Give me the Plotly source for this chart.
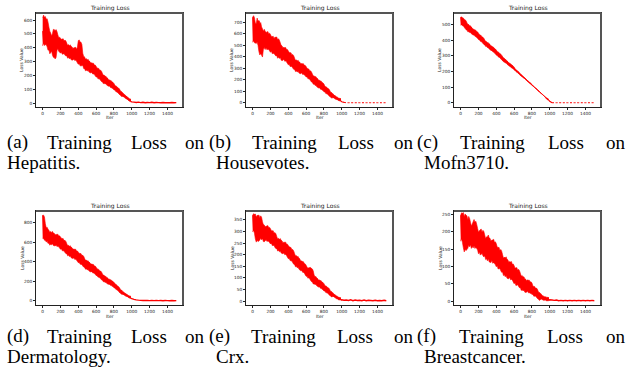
import plotly.graph_objects as go

W, H = 628, 381

# ---------------- data ----------------
ITER_MAIN = list(range(0, 1000, 10))
ITER_TAIL = list(range(1000, 1501, 25))

hepatitis_main = [
    520, 432, 620, 449, 600, 430, 545, 385, 497, 446,
    475, 396, 488, 330, 520, 392, 439, 395, 472, 398,
    453, 368, 422, 380, 449, 363, 418, 342, 416, 373,
    397, 326, 407, 349, 390, 319, 360, 320, 388, 321,
    366, 285, 440, 292, 355, 274, 322, 250, 317, 276,
    299, 237, 303, 253, 285, 223, 255, 219, 274, 216,
    251, 190, 224, 193, 236, 175, 208, 154, 201, 169,
    182, 140, 182, 146, 165, 123, 142, 117, 151, 111,
    129, 94, 109, 90, 111, 75, 91, 59, 82, 62,
    65, 45, 59, 42, 47, 27, 32, 18, 29, 10]
hepatitis_tail = [8, 6, 4, 6, 3, 5, 2, 4, 3, 5, 2, 4, 3, 2, 4, 2, 3, 2, 4, 2, 3]

housevotes_main = [
    745, 540, 636, 558, 688, 529, 632, 715, 630, 430,
    603, 485, 623, 527, 598, 480, 550, 485, 600, 490,
    567, 450, 524, 465, 558, 441, 515, 411, 550, 452,
    489, 395, 498, 422, 473, 379, 430, 376, 462, 374,
    432, 336, 393, 344, 416, 321, 377, 292, 369, 321,
    348, 274, 355, 294, 334, 261, 300, 258, 325, 256,
    298, 227, 264, 227, 277, 205, 243, 179, 233, 194,
    213, 153, 213, 163, 192, 132, 160, 125, 174, 118,
    145, 95, 120, 92, 124, 74, 99, 54, 88, 61,
    66, 43, 62, 42, 50, 27, 35, 21, 36, 14]
housevotes_tail = [8, 3, 0, 0, 0, 0, 0, 0, 0, 0, 0, 0, 0, 0, 0, 0, 0, 0, 0, 0, 0]

mofn_main = [
    545, 497, 523, 497, 529, 481, 507, 464, 499, 474,
    484, 449, 481, 452, 467, 432, 447, 426, 453, 420,
    436, 402, 417, 398, 419, 385, 401, 369, 391, 373,
    379, 351, 375, 350, 361, 333, 343, 326, 345, 319,
    329, 302, 313, 297, 312, 285, 295, 270, 286, 270,
    273, 253, 266, 249, 254, 234, 239, 226, 237, 218,
    220, 206, 208, 198, 201, 187, 189, 175, 178, 169,
    167, 157, 158, 149, 146, 137, 135, 127, 127, 118,
    114, 107, 104, 97, 94, 87, 84, 76, 73, 66,
    62, 57, 52, 46, 41, 36, 31, 26, 21, 15]
mofn_tail = [10, 0, 0, 0, 0, 0, 0, 0, 0, 0, 0, 0, 0, 0, 0, 0, 0, 0, 0, 0, 0]

dermatology_main = [
    875, 640, 790, 643, 744, 621, 701, 592, 700, 640,
    680, 584, 692, 614, 668, 572, 626, 572, 662, 572,
    634, 533, 592, 540, 615, 514, 573, 483, 563, 512,
    540, 458, 546, 479, 522, 440, 483, 436, 509, 432,
    483, 394, 444, 398, 463, 373, 424, 344, 414, 367,
    391, 321, 394, 336, 371, 301, 336, 296, 356, 290,
    328, 260, 296, 259, 305, 237, 273, 212, 261, 225,
    239, 190, 237, 197, 219, 170, 192, 162, 201, 155,
    178, 132, 151, 125, 150, 105, 123, 82, 109, 83,
    86, 63, 80, 60, 66, 43, 49, 35, 48, 25]
dermatology_tail = [22, 15, 10, 7, 5, 4, 3, 4, 2, 3, 2, 3, 2, 3, 1, 3, 2, 1, 3, 1, 2]

crx_main = [
    370, 305, 336, 304, 362, 262, 333, 277, 358, 300,
    321, 270, 329, 287, 316, 266, 295, 267, 316, 268,
    300, 250, 279, 254, 293, 242, 272, 227, 268, 242,
    258, 216, 261, 227, 250, 208, 230, 206, 245, 205,
    232, 185, 212, 187, 221, 174, 201, 159, 195, 171,
    183, 146, 184, 153, 171, 133, 151, 130, 161, 125,
    146, 108, 129, 109, 135, 97, 140, 83, 112, 92,
    100, 73, 99, 77, 90, 62, 75, 58, 81, 55,
    68, 44, 56, 43, 58, 35, 46, 25, 41, 29,
    31, 20, 28, 19, 22, 10, 14, 7, 15, 5]
crx_tail = [6, 4, 5, 3, 6, 2, 5, 3, 4, 2, 5, 2, 4, 3, 2, 4, 2, 3, 2, 4, 2]

breastcancer_main = [
    248, 180, 218, 187, 244, 150, 219, 164, 235, 189,
    210, 163, 217, 179, 207, 160, 228, 161, 207, 162,
    198, 142, 179, 152, 199, 143, 180, 131, 180, 154,
    175, 122, 182, 139, 170, 118, 148, 118, 169, 120,
    152, 103, 133, 108, 146, 97, 127, 84, 124, 100,
    115, 74, 120, 86, 110, 69, 92, 69, 106, 68,
    93, 53, 78, 58, 89, 50, 74, 39, 72, 51,
    61, 32, 64, 41, 58, 29, 45, 28, 55, 28,
    43, 20, 33, 21, 37, 15, 27, 7, 24, 12,
    15, 6, 15, 7, 12, 3, 7, 2, 10, 2]
breastcancer_tail = [4, 3, 2, 3, 1, 2, 1, 2, 1, 2, 1, 2, 1, 2, 1, 2, 1, 2, 1, 2, 1]

LABELS = ["(a)", "(b)", "(c)", "(d)", "(e)", "(f)"]
DATASETS = ["Hepatitis.", "Housevotes.", "Mofn3710.", "Dermatology.", "Crx.", "Breastcancer."]
X_TICKS = [0, 200, 400, 600, 800, 1000, 1200, 1400]
Y_DTICKS = [100, 100, 100, 200, 50, 50]
SERIES = [
    (hepatitis_main, hepatitis_tail),
    (housevotes_main, housevotes_tail),
    (mofn_main, mofn_tail),
    (dermatology_main, dermatology_tail),
    (crx_main, crx_tail),
    (breastcancer_main, breastcancer_tail),
]
DASHED_TAIL = [False, True, True, False, False, False]

# ---------------- layout geometry (pixels) ----------------
COL_X = [(36, 183), (246, 393), (454, 601)]
ROW_Y = [(13, 107), (211, 305)]
CAP_LINE1 = [(7, 204), (209, 413), (417, 625)]
CAP_LINE2_X = [7, 216, 424]
CAP_Y = [(142, 162.5), (336, 356.5)]
CAP_SIZE = 19

TIMES_W = {"(": .333, ")": .333, "a": .444, "b": .5, "c": .444, "d": .5, "e": .444,
           "f": .333, "T": .611, "r": .333, "i": .278, "n": .5, "g": .5, "L": .611,
           "o": .5, "s": .389}


def tw(s):
    return sum(TIMES_W.get(ch, .5) for ch in s) * CAP_SIZE


def px(x):
    return x / W


def py(y):
    return 1 - y / H


def band(vals, half_trend=3, half_env=2):
    """Envelope of the fast oscillation, taken from the series itself:
    local trend (running mean) plus the extreme residuals of nearby samples."""
    n = len(vals)
    trend = []
    for i in range(n):
        w = vals[max(0, i - half_trend):i + half_trend + 1]
        trend.append(sum(w) / len(w))
    resid = [v - t for v, t in zip(vals, trend)]
    up, lo = [], []
    for i in range(n):
        rw = resid[max(0, i - half_env):i + half_env + 1]
        up.append(max(vals[i], trend[i] + max(rw)))
        lo.append(min(vals[i], trend[i] + min(rw)))
    return up, lo


fig = go.Figure()
annotations = []
shapes = []
TICKFONT = dict(family="DejaVu Sans", size=4.3, color="#222")
RED = "#ff0000"

for k, (main, tail) in enumerate(SERIES):
    r, c = divmod(k, 3)
    x0, x1 = COL_X[c]
    y0, y1 = ROW_Y[r]
    sfx = "" if k == 0 else str(k + 1)
    xref, yref = "x" + sfx, "y" + sfx

    allv = main + tail
    lo, hi = min(allv), max(allv)
    pad = 0.05 * (hi - lo)

    up, dn = band(main)
    fig.add_trace(go.Scatter(x=ITER_MAIN, y=up, mode="lines",
                             line=dict(color=RED, width=0.6, simplify=False),
                             xaxis=xref, yaxis=yref, showlegend=False, hoverinfo="skip"))
    fig.add_trace(go.Scatter(x=ITER_MAIN, y=dn, mode="lines",
                             line=dict(color=RED, width=0.6, simplify=False),
                             fill="tonexty", fillcolor=RED,
                             xaxis=xref, yaxis=yref, showlegend=False, hoverinfo="skip"))
    fig.add_trace(go.Scatter(x=ITER_MAIN, y=main, mode="lines",
                             line=dict(color=RED, width=1, simplify=False),
                             xaxis=xref, yaxis=yref, showlegend=False))

    if DASHED_TAIL[k]:
        fig.add_trace(go.Scatter(x=ITER_MAIN[-1:] + ITER_TAIL[:2], y=main[-1:] + tail[:2],
                                 mode="lines", line=dict(color=RED, width=1.2, simplify=False),
                                 xaxis=xref, yaxis=yref, showlegend=False))
        fig.add_trace(go.Scatter(x=ITER_TAIL[1:], y=tail[1:], mode="lines",
                                 line=dict(color=RED, width=1, dash="2px,1.6px", simplify=False),
                                 xaxis=xref, yaxis=yref, showlegend=False))
    else:
        fig.add_trace(go.Scatter(x=ITER_MAIN[-1:] + ITER_TAIL, y=main[-1:] + tail, mode="lines",
                                 line=dict(color=RED, width=1.4, simplify=False),
                                 xaxis=xref, yaxis=yref, showlegend=False))

    common = dict(showline=True, linecolor="#222", linewidth=0.8, mirror=True,
                  ticks="outside", ticklen=2, tickwidth=0.6, tickcolor="#222",
                  showgrid=False, zeroline=False, tickfont=TICKFONT, fixedrange=True)
    fig.update_layout(**{
        "xaxis" + sfx: dict(domain=[px(x0), px(x1)], anchor=yref, range=[-75, 1575],
                            tickvals=X_TICKS, **common),
        "yaxis" + sfx: dict(domain=[py(y1), py(y0)], anchor=xref, range=[lo - pad, hi + pad],
                            tick0=0, dtick=Y_DTICKS[k], **common),
    })

    # heavier top/right frame
    shapes.append(dict(type="line", xref="paper", yref="paper", x0=px(x0), x1=px(x1) + 0.5 / W,
                       y0=py(y0), y1=py(y0), line=dict(color="#555", width=2)))
    shapes.append(dict(type="line", xref="paper", yref="paper", x0=px(x1), x1=px(x1),
                       y0=py(y1), y1=py(y0), line=dict(color="#555", width=2)))

    cx = (x0 + x1) / 2
    annotations.append(dict(text="Training Loss", x=px(cx), y=py(y0 - 5), xref="paper", yref="paper",
                            showarrow=False, xanchor="center", yanchor="middle",
                            font=dict(family="DejaVu Sans", size=6, color="#222")))
    annotations.append(dict(text="Iter", x=px(cx), y=py(y1 + 11), xref="paper", yref="paper",
                            showarrow=False, xanchor="center", yanchor="middle",
                            font=dict(family="DejaVu Sans", size=4.5, color="#222")))
    annotations.append(dict(text="Loss Value", x=px(x0 - 14), y=py((y0 + y1) / 2), xref="paper",
                            yref="paper", showarrow=False, xanchor="center", yanchor="middle",
                            textangle=-90, font=dict(family="DejaVu Sans", size=4.5, color="#222")))

    # caption: justified first line, left-aligned second line
    words = [LABELS[k], "Training", "Loss", "on"]
    lx0, lx1 = CAP_LINE1[c]
    widths = [tw(wd) for wd in words]
    gap = (lx1 - lx0 - sum(widths)) / (len(words) - 1)
    xpos = lx0
    cy1, cy2 = CAP_Y[r]
    capfont = dict(family="Liberation Serif", size=CAP_SIZE, color="#000")
    for wd, wdt in zip(words, widths):
        annotations.append(dict(text=wd, x=px(xpos), y=py(cy1), xref="paper", yref="paper",
                                showarrow=False, xanchor="left", yanchor="middle",
                                borderpad=0, borderwidth=0, font=capfont))
        xpos += wdt + gap
    annotations.append(dict(text=DATASETS[k], x=px(CAP_LINE2_X[c]), y=py(cy2), xref="paper",
                            yref="paper", showarrow=False, xanchor="left", yanchor="middle",
                            borderpad=0, borderwidth=0, font=capfont))

fig.update_layout(width=W, height=H, margin=dict(l=0, r=0, t=0, b=0),
                  paper_bgcolor="white", plot_bgcolor="white",
                  annotations=annotations, shapes=shapes, showlegend=False)

fig.write_html("out.html")
